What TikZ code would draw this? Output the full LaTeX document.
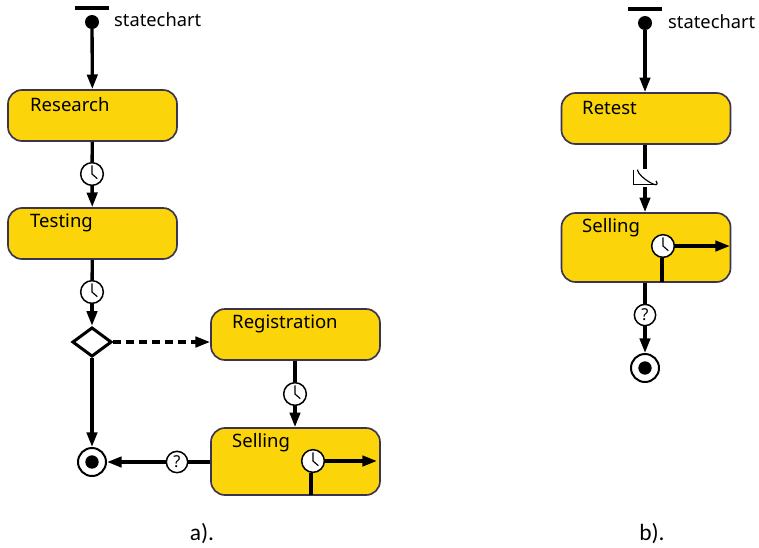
\documentclass[tikz,border=0pt]{standalone}
\usepackage{fontspec}
\setmainfont{Noto Sans}
\newfontfamily\captionfont{Carlito}
\usetikzlibrary{arrows.meta,shapes.geometric}
\definecolor{stategold}{HTML}{FBD40A}
\definecolor{stateedge}{HTML}{3A3450}
\tikzset{
	statebox/.style={draw=stateedge, fill=stategold, line width=0.5mm, rectangle, rounded corners=0.42cm, minimum width=5.07cm, inner sep=0},
	statetext/.style={anchor=west, inner sep=0, font=\fontsize{15.8}{16}\selectfont},
	flowline/.style={line width=1mm, color=black},
	flowarrow/.style={flowline, -{Triangle[length=4.4mm,width=3.1mm]}},
	startbar/.style={fill=black, rectangle, minimum width=1cm, minimum height=1mm, inner sep=0},
	startdot/.style={fill=black, circle, minimum size=0.42cm, inner sep=0},
	endring/.style={draw, fill=white, circle, line width=0.6mm, minimum size=0.84cm, inner sep=0, path picture={\fill[black] (path picture bounding box.center) circle (0.2cm);}},
	clockmark/.style={draw, fill=white, circle, line width=0.45mm, minimum size=0.68cm, inner sep=0, path picture={\draw[line width=0.35mm] ([yshift=0.26cm]path picture bounding box.center) -- (path picture bounding box.center) -- ++(0.16cm,-0.14cm);}},
	askmark/.style={draw, fill=white, circle, line width=0.45mm, minimum size=0.64cm, inner sep=0, font=\fontsize{14}{14}\selectfont},
	decaymark/.style={rectangle, minimum width=0.76cm, minimum height=0.54cm, inner sep=0, fill=white, path picture={\draw[line width=0.35mm] (path picture bounding box.north west) ++(0.04cm,-0.02cm) -- ++(0,-0.44cm) -- ++(0.7cm,0); \draw[line width=0.35mm] (path picture bounding box.north west) ++(0.15cm,-0.02cm) .. controls ++(0.03cm,-0.24cm) and ++(0.2cm,-0.31cm) .. ++(0.56cm,-0.34cm);}},
	choicemark/.style={draw, fill=white, diamond, line width=0.9mm, minimum width=1.18cm, minimum height=0.88cm, inner sep=0}
}

\begin{document}
\begin{tikzpicture}[x=0.03cm, y=-0.03cm]
	%%%%% LEFT %%%%%
	\useasboundingbox (0, 0) rectangle (759, 547);

	\node[startbar] (barA) at (92, 8) {};
	\node[startdot] (dotA) at (92, 22) {};
	\node[anchor=west, inner sep=0, font=\fontsize{15.6}{16}\selectfont] (nameA) at (114, 20) {statechart};

	\node[statebox, minimum height=1.53cm] (research) at (92.5, 115.5) {};
	\node[statetext] (researchtext) at (30, 105) {Research};
	\node[statebox, minimum height=1.53cm] (testing) at (92.5, 233.5) {};
	\node[statetext] (testingtext) at (30, 223) {Testing};
	\node[statebox, minimum height=1.53cm] (registration) at (295.5, 334.5) {};
	\node[statetext] (registrationtext) at (232, 324) {Registration};
	\node[statebox, minimum height=2.01cm] (selling) at (295.5, 461.5) {};
	\node[statetext] (sellingtext) at (232, 443) {Selling};

	\node[clockmark] (clockA) at (92, 174) {};
	\node[clockmark] (clockB) at (92, 292) {};
	\node[clockmark] (clockC) at (295, 394) {};
	\node[clockmark] (clockD) at (313, 461) {};
	\node[choicemark] (choice) at (92, 342) {};
	\node[askmark] (askA) at (177, 462) {?};
	\node[endring] (endA) at (92, 462) {};

	\coordinate (footA) at (311, 495);
	\coordinate (tipA) at (377, 461);

	\draw[flowarrow] (dotA) -- (research);
	\draw[flowline] (research) -- (clockA);
	\draw[flowarrow] (clockA) -- (testing);
	\draw[flowline] (testing) -- (clockB);
	\draw[flowarrow] (clockB) -- (choice);
	\draw[flowarrow, dash pattern=on 2.4mm off 1.5mm] (choice) -- (registration.west |- choice);
	\draw[flowarrow] (choice) -- (endA);
	\draw[flowline] (registration.south -| clockC) -- (clockC);
	\draw[flowarrow] (clockC) -- (clockC |- selling.north);
	\draw[flowline] (selling.west |- askA) -- (askA);
	\draw[flowarrow] (askA) -- (endA);
	\draw[flowline] (footA) -- (footA |- clockD.south);
	\draw[flowarrow] (clockD) -- (tipA);

	\node[font=\captionfont\fontsize{20}{20}\selectfont] (captionA) at (202, 534) {a).};

	%%%%% RIGHT %%%%%
	\node[startbar] (barB) at (645, 9) {};
	\node[startdot] (dotB) at (645, 23) {};
	\node[anchor=west, inner sep=0, font=\fontsize{15.6}{16}\selectfont] (nameB) at (668, 22) {statechart};

	\node[statebox, minimum height=1.53cm] (retest) at (646, 118.5) {};
	\node[statetext] (retesttext) at (582, 108) {Retest};
	\node[statebox, minimum height=2.07cm] (sellingB) at (646, 247.5) {};
	\node[statetext] (sellingBtext) at (582, 228) {Selling};

	\node[decaymark] (decay) at (645, 178) {};
	\node[clockmark] (clockE) at (663, 246) {};
	\node[askmark] (askB) at (645, 315) {?};
	\node[endring] (endB) at (645, 368) {};

	\coordinate (footB) at (662, 282);
	\coordinate (tipB) at (730, 246);

	\draw[flowarrow] (dotB) -- (dotB |- retest.north);
	\draw[flowline] (dotB |- retest.south) -- (decay);
	\draw[flowarrow] (decay) -- (decay |- sellingB.north);
	\draw[flowline] (askB |- sellingB.south) -- (askB);
	\draw[flowarrow] (askB) -- (endB);
	\draw[flowline] (footB) -- (footB |- clockE.south);
	\draw[flowarrow] (clockE) -- (tipB);

	\node[font=\captionfont\fontsize{20}{20}\selectfont] (captionB) at (652, 534) {b).};
\end{tikzpicture}
\end{document}
